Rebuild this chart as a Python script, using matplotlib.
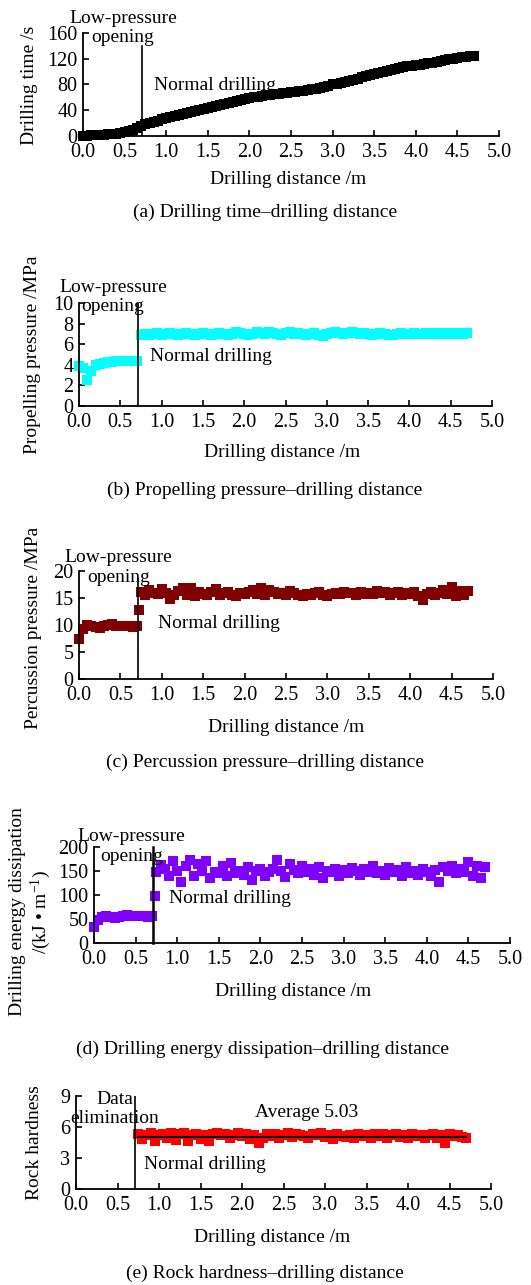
import numpy as np
import matplotlib.pyplot as plt

# Drilling distance (m): low-pressure opening part and normal drilling part
dist_low = [0.00, 0.05, 0.10, 0.15, 0.20, 0.25, 0.30, 0.35, 0.40, 0.45,
            0.50, 0.55, 0.60, 0.65, 0.70]
dist_high = [0.75, 0.80, 0.85, 0.90, 0.95, 1.00, 1.05, 1.10, 1.15, 1.20,
             1.25, 1.30, 1.35, 1.40, 1.45, 1.50, 1.55, 1.60, 1.65, 1.70,
             1.75, 1.80, 1.85, 1.90, 1.95, 2.00, 2.05, 2.10, 2.15, 2.20,
             2.25, 2.30, 2.35, 2.40, 2.45, 2.50, 2.55, 2.60, 2.65, 2.70,
             2.75, 2.80, 2.85, 2.90, 2.95, 3.00, 3.05, 3.10, 3.15, 3.20,
             3.25, 3.30, 3.35, 3.40, 3.45, 3.50, 3.55, 3.60, 3.65, 3.70,
             3.75, 3.80, 3.85, 3.90, 3.95, 4.00, 4.05, 4.10, 4.15, 4.20,
             4.25, 4.30, 4.35, 4.40, 4.45, 4.50, 4.55, 4.60, 4.65, 4.70]
dist_switch = 0.71      # end of low-pressure opening
dist_jump = 0.73        # transition sample

# (a) drilling time /s
time_low = [0, 0.5, 1, 1.2, 1.5, 2, 2.5, 3, 3.5, 4.5, 5.5, 7, 9, 12, 15]
time_high = [18, 20, 22, 24, 26, 28, 29.5, 31, 32.5, 34,
             35.5, 37, 38.5, 40, 41.5, 43, 44.5, 46, 48, 49.5,
             51, 53, 54.5, 56, 57.5, 59, 60, 61, 62, 63,
             64, 64.5, 65.5, 66.5, 67, 68, 69, 70, 70.5, 71.5,
             72.5, 73.5, 75, 76.5, 78, 80, 81.5, 83, 84.5, 86,
             87.5, 89, 91, 93, 95, 97, 98.5, 100, 101.5, 103,
             104.5, 106, 107, 108, 109, 110, 111, 112, 113, 114,
             115.5, 117, 118, 119, 120, 121, 122, 123, 124, 125]

# (b) propelling pressure /MPa
prop_low = [3.9, 3.7, 2.5, 3.4, 4.0, 4.1, 4.2, 4.3, 4.3, 4.4, 4.4, 4.4, 4.4, 4.4, 4.4]
prop_high = [6.9, 7.0, 6.9, 7.0, 7.1, 6.9, 7.0, 7.1, 7.0, 6.9,
             7.0, 7.1, 7.0, 6.9, 7.0, 7.1, 7.0, 6.9, 7.0, 7.1,
             7.0, 6.9, 7.0, 7.2, 7.1, 7.0, 6.9, 7.0, 7.2, 7.1,
             7.0, 7.2, 7.1, 7.0, 6.9, 7.1, 7.2, 7.0, 7.1, 7.0,
             6.9, 7.0, 7.1, 6.9, 6.8, 7.0, 7.1, 7.2, 7.1, 7.0,
             7.1, 7.2, 7.1, 7.0, 7.1, 7.0, 6.9, 7.0, 7.1, 7.0,
             6.9, 6.9, 7.0, 7.1, 7.0, 7.0, 7.1, 7.0, 7.0, 7.1,
             7.0, 7.1, 7.0, 7.1, 7.0, 7.1, 7.0, 7.1, 7.0, 7.1]

# (c) percussion pressure /MPa
perc_low = [7.5, 9.2, 10.0, 9.8, 9.6, 9.5, 9.8, 10.0, 10.1, 9.9, 9.8, 9.9, 9.8, 9.7, 9.8]
perc_jump = 12.8
perc_high = [16.2, 15.6, 16.4, 16.0, 15.7, 16.6, 15.9, 14.9, 15.5, 16.3,
             16.8, 15.6, 16.9, 15.3, 16.2, 15.8, 15.5, 16.1, 16.7, 15.6,
             15.9, 16.2, 15.5, 15.4, 16.0, 15.8, 16.1, 16.4, 15.8, 16.8,
             15.6, 16.5, 16.2, 15.7, 16.0, 15.5, 16.3, 15.9, 15.6, 15.4,
             15.8, 15.5, 15.9, 16.2, 15.6, 15.4, 15.8, 16.0, 15.7, 16.1,
             15.9, 16.0, 15.6, 16.2, 15.8, 16.0, 15.7, 16.3, 15.9, 16.1,
             15.6, 15.9, 16.2, 15.5, 16.0, 15.7, 16.1, 15.4, 14.6, 15.8,
             16.2, 15.5, 16.0, 16.4, 15.8, 17.0, 15.4, 16.3, 15.5, 16.3]

# (d) drilling energy dissipation /(kJ m^-1)
energy_low = [33, 48, 55, 57, 54, 52, 55, 56, 59, 57, 56, 56, 57, 55, 56]
energy_jump = 97
energy_high = [148, 162, 155, 140, 171, 150, 128, 160, 172, 140,
               165, 150, 170, 135, 148, 145, 160, 140, 166, 145,
               150, 142, 158, 132, 150, 155, 140, 148, 155, 172,
               150, 138, 165, 152, 145, 160, 148, 155, 142, 158,
               135, 150, 148, 155, 140, 152, 146, 157, 150, 142,
               155, 148, 160, 145, 150, 142, 156, 148, 152, 140,
               158, 145, 150, 142, 155, 148, 140, 152, 127, 158,
               150, 160, 145, 155, 148, 168, 140, 160, 135, 158]

# (e) rock hardness
hard_high = [5.3, 4.8, 5.2, 5.4, 4.6, 5.2, 5.3, 4.9, 5.4, 4.7,
             5.3, 5.4, 4.6, 5.2, 5.3, 4.8, 5.2, 4.6, 5.3, 5.4,
             5.2, 5.3, 4.9, 5.2, 5.4, 5.1, 5.3, 4.8, 5.2, 4.5,
             4.9, 5.3, 5.1, 5.3, 4.9, 5.2, 5.4, 5.0, 5.3, 5.2,
             5.1, 4.9, 5.3, 5.2, 5.4, 5.0, 5.2, 4.8, 5.3, 5.1,
             5.0, 5.2, 4.9, 5.3, 5.1, 5.2, 4.9, 5.3, 5.1, 5.3,
             4.9, 5.2, 5.3, 5.0, 5.2, 4.9, 5.3, 5.1, 5.2, 4.9,
             5.2, 5.3, 4.9, 5.2, 4.5, 5.3, 5.1, 5.2, 5.0, 4.9]
hard_avg = 5.03

x_ticks = [0.0, 0.5, 1.0, 1.5, 2.0, 2.5, 3.0, 3.5, 4.0, 4.5, 5.0]

plt.rcParams['font.family'] = ['Liberation Serif', 'DejaVu Serif']
plt.rcParams['mathtext.fontset'] = 'custom'
plt.rcParams['mathtext.rm'] = 'Liberation Serif'
plt.rcParams['mathtext.it'] = 'Liberation Serif:italic'

W, H = 531, 1285
fig = plt.figure(figsize=(W / 100, H / 100), dpi=100)
FS = 14


def px(x, y):
    # pixel position (from top-left) -> figure fraction
    return x / W, 1 - y / H


def make_axes(x0, x1, y_top, y_bot, yticks):
    ax = fig.add_axes([x0 / W, 1 - y_bot / H, (x1 - x0) / W, (y_bot - y_top) / H])
    ax.set_xlim(0, 5)
    ax.set_ylim(yticks[0], yticks[-1])
    ax.set_xticks(x_ticks)
    ax.set_xticklabels([f'{t:.1f}' for t in x_ticks])
    ax.set_yticks(yticks)
    for s in ['top', 'right']:
        ax.spines[s].set_visible(False)
    for s in ['left', 'bottom']:
        ax.spines[s].set_linewidth(1.3)
    ax.tick_params(direction='in', length=4, width=1.2, labelsize=14.5)
    ax.tick_params(axis='x', pad=5)
    ax.tick_params(axis='y', pad=4)
    return ax


mk = dict(ls='none', marker='s', ms=7.5, mew=0, clip_on=False, zorder=2)

# (a)
ax = make_axes(83, 499, 33, 136, [0, 40, 80, 120, 160])
ax.plot(dist_low + dist_high, time_low + time_high, color='black', **mk)
ax.plot([dist_switch, dist_switch], [0, 140], color='black', lw=1.2)
ax.text(0.48, 168, 'Low-pressure\nopening', ha='center', va='center', fontsize=FS)
ax.text(0.85, 79, 'Normal drilling', ha='left', va='center', fontsize=FS)
fig.text(*px(29, 85), 'Drilling time /s', rotation=90, ha='center', va='center', fontsize=FS)
fig.text(*px(288, 180), 'Drilling distance /m', ha='center', va='center', fontsize=FS)
fig.text(*px(265, 212), '(a) Drilling time–drilling distance', ha='center', va='center', fontsize=FS)

# (b)
ax = make_axes(79, 492, 303, 406, [0, 2, 4, 6, 8, 10])
ax.plot(dist_low, prop_low, color='#00FFFF', **mk)
ax.plot(dist_high, prop_high, color='#00FFFF', **mk)
ax.plot([dist_switch, dist_switch], [0, 10], color='black', lw=1.2)
ax.text(0.41, 10.6, 'Low-pressure\nopening', ha='center', va='center', fontsize=FS)
ax.text(0.86, 4.85, 'Normal drilling', ha='left', va='center', fontsize=FS)
fig.text(*px(33, 355), 'Propelling pressure /MPa', rotation=90, ha='center', va='center', fontsize=FS)
fig.text(*px(282, 452), 'Drilling distance /m', ha='center', va='center', fontsize=FS)
fig.text(*px(265, 490), '(b) Propelling pressure–drilling distance', ha='center', va='center', fontsize=FS)

# (c)
ax = make_axes(79, 493, 571, 679, [0, 5, 10, 15, 20])
ax.plot(dist_low, perc_low, color='#800000', **mk)
ax.plot([dist_jump], [perc_jump], color='#800000', **mk)
ax.plot(dist_high, perc_high, color='#800000', **mk)
ax.plot([dist_switch, dist_switch], [0, 18.5], color='black', lw=1.2)
ax.text(0.48, 20.6, 'Low-pressure\nopening', ha='center', va='center', fontsize=FS)
ax.text(0.95, 10.2, 'Normal drilling', ha='left', va='center', fontsize=FS)
fig.text(*px(34, 628), 'Percussion pressure /MPa', rotation=90, ha='center', va='center', fontsize=FS)
fig.text(*px(286, 727), 'Drilling distance /m', ha='center', va='center', fontsize=FS)
fig.text(*px(265, 762), '(c) Percussion pressure–drilling distance', ha='center', va='center', fontsize=FS)

# (d)
ax = make_axes(94, 510, 847, 943, [0, 50, 100, 150, 200])
ax.plot(dist_low, energy_low, color='#7F00FF', **mk)
ax.plot([dist_jump], [energy_jump], color='#7F00FF', **mk)
ax.plot(dist_high, energy_high, color='#7F00FF', **mk)
ax.plot([dist_switch, dist_switch], [0, 201], color='black', lw=1.8, clip_on=False)
ax.text(0.45, 201, 'Low-pressure\nopening', ha='center', va='center', fontsize=FS)
ax.text(0.90, 91.7, 'Normal drilling', ha='left', va='center', fontsize=FS)
fig.text(*px(31, 912), 'Drilling energy dissipation\n/(kJ • m$^{-1}$)', rotation=90,
         ha='center', va='center', ma='center', fontsize=FS)
fig.text(*px(293, 992), 'Drilling distance /m', ha='center', va='center', fontsize=FS)
fig.text(*px(262, 1049), '(d) Drilling energy dissipation–drilling distance', ha='center', va='center', fontsize=FS)

# (e)
ax = make_axes(76, 491, 1096, 1189, [0, 3, 6, 9])
ax.plot(dist_high, hard_high, color='#FF0000', **mk)
ax.plot([dist_high[0], dist_high[-1]], [hard_avg, hard_avg], color='black', lw=1.5, zorder=3)
ax.plot([dist_switch, dist_switch], [0, 9], color='black', lw=1.2)
ax.text(0.47, 7.76, 'Data\nelimination', ha='center', va='center', fontsize=FS)
ax.text(2.78, 7.4, f'Average {hard_avg}', ha='center', va='center', fontsize=FS)
ax.text(0.82, 2.4, 'Normal drilling', ha='left', va='center', fontsize=FS)
fig.text(*px(34.5, 1143), 'Rock hardness', rotation=90, ha='center', va='center', fontsize=FS)
fig.text(*px(272, 1238), 'Drilling distance /m', ha='center', va='center', fontsize=FS)
fig.text(*px(265, 1273), '(e) Rock hardness–drilling distance', ha='center', va='center', fontsize=FS)

fig.savefig('out.png', dpi=100, facecolor='white')
